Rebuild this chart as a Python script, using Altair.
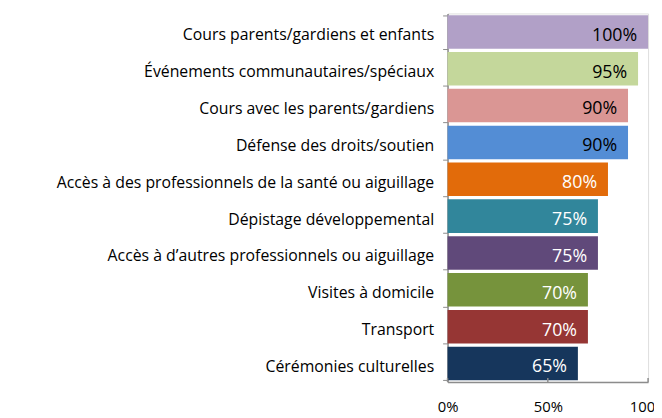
import altair as alt
import pandas as pd

categories = [
    "Cours parents/gardiens et enfants",
    "Événements communautaires/spéciaux",
    "Cours avec les parents/gardiens",
    "Défense des droits/soutien",
    "Accès à des professionnels de la santé ou aiguillage",
    "Dépistage développemental",
    "Accès à d’autres professionnels  ou aiguillage",
    "Visites à domicile",
    "Transport",
    "Cérémonies culturelles",
]
values = [100, 95, 90, 90, 80, 75, 75, 70, 70, 65]
colors = ["#B1A0C7", "#C4D79B", "#DA9694", "#538DD5", "#E26B0A",
          "#31869B", "#60497A", "#76933C", "#963634", "#16365C"]
label_colors = ["black", "black", "black", "black", "white",
                "white", "white", "white", "white", "white"]
x_ticks = [0, 50, 100]

df = pd.DataFrame({
    "cat": categories,
    "val": values,
    "color": colors,
    "lcolor": label_colors,
    "label": [f"{v}%" for v in values],
})
ticks_df = pd.DataFrame({"t": x_ticks})

FONT = "Open Sans"
AXIS_GRAY = "#8c8c8c"

y = alt.Y("cat:N", sort=categories, title=None,
          scale=alt.Scale(paddingInner=0.09, paddingOuter=0.045),
          axis=alt.Axis(labelFont=FONT, labelFontSize=16, labelColor="black",
                        labelPadding=9, tickSize=5, tickColor=AXIS_GRAY,
                        tickBand="extent", labelOffset=3,
                        domainColor=AXIS_GRAY, domainWidth=1.5,
                        labelLimit=500))
x = alt.X("val:Q", title=None,
          scale=alt.Scale(domain=[0, 100], nice=False),
          axis=alt.Axis(values=x_ticks, labelExpr="datum.value + '%'",
                        labelFont=FONT, labelFontSize=15, labelColor="black",
                        labelPadding=18, tickSize=0,
                        domainColor=AXIS_GRAY, domainWidth=1.5, grid=False,
                        labelFlush=False, labelOverlap=False))

bars = alt.Chart(df).mark_bar().encode(
    x=x, y=y, color=alt.Color("color:N", scale=None)
)
text = alt.Chart(df).mark_text(align="right", baseline="middle", dx=-11, dy=4,
                               font=FONT, fontSize=18).encode(
    x="val:Q", y=alt.Y("cat:N", sort=categories), text="label:N",
    color=alt.Color("lcolor:N", scale=None)
)
xticks = alt.Chart(ticks_df).mark_rule(color=AXIS_GRAY, strokeWidth=1.5).encode(
    x="t:Q", y=alt.value(369), y2=alt.value(373)
)

chart = (bars + text + xticks).properties(
    width=203, height=373,
    autosize=alt.AutoSizeParams(type="none"),
    padding={"left": 445, "top": 3, "right": 6, "bottom": 34},
).configure_view(stroke=None).configure(background="white")

chart.save("out.html", embed_options={"renderer": "svg", "actions": False})
